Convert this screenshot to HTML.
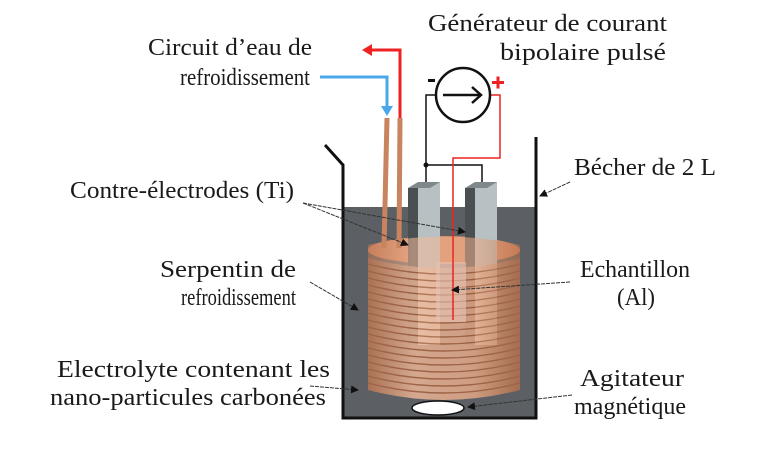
<!DOCTYPE html>
<html><head><meta charset="utf-8"><style>
html,body{margin:0;padding:0;background:#fff;}
svg{display:block;}
text{font-family:"Liberation Serif",serif;font-size:24px;fill:#1a1a1a;}
</style></head><body>
<svg width="768" height="455" viewBox="0 0 768 455" xmlns="http://www.w3.org/2000/svg">
<defs>
<marker id="ah" markerWidth="8" markerHeight="8" refX="7" refY="4" orient="auto" markerUnits="userSpaceOnUse"><path d="M0,0 L8,4 L0,8 z" fill="#111"/></marker>
<linearGradient id="cu" x1="0" x2="1" y1="0" y2="0">
<stop offset="0" stop-color="#c07650"/><stop offset="0.3" stop-color="#f6bd9c"/><stop offset="0.7" stop-color="#f0ae8a"/><stop offset="1" stop-color="#ba7048"/></linearGradient>
</defs>
<rect width="768" height="455" fill="#fff"/>
<rect x="343" y="207" width="193" height="211" fill="#5c6064"/>
<ellipse cx="444" cy="250" rx="76" ry="14" fill="#d08a66"/>
<rect x="408" y="188" width="10" height="157" fill="#4a4f52"/>
<rect x="418" y="182" width="22" height="163" fill="#b7c0c2"/>
<polygon points="408,188 418,182 440,182 430,188" fill="#7f888b"/>
<rect x="465" y="188" width="10" height="157" fill="#4a4f52"/>
<rect x="475" y="182" width="22" height="163" fill="#b7c0c2"/>
<polygon points="465,188 475,182 497,182 487,188" fill="#7f888b"/>
<g opacity="0.78">
<path d="M368,258 Q444,278 520,258 L520,390 Q444,410 368,390 z" fill="url(#cu)"/>
<g stroke="#b0663f" stroke-width="1.4" fill="none">
<path d="M368,264 Q444,284 520,264"/><path d="M368,271 Q444,291 520,271"/><path d="M368,278 Q444,298 520,278"/><path d="M368,285 Q444,305 520,285"/><path d="M368,292 Q444,312 520,292"/><path d="M368,299 Q444,319 520,299"/><path d="M368,306 Q444,326 520,306"/><path d="M368,313 Q444,333 520,313"/><path d="M368,320 Q444,340 520,320"/><path d="M368,327 Q444,347 520,327"/><path d="M368,334 Q444,354 520,334"/><path d="M368,341 Q444,361 520,341"/><path d="M368,348 Q444,368 520,348"/><path d="M368,355 Q444,375 520,355"/><path d="M368,362 Q444,382 520,362"/><path d="M368,369 Q444,389 520,369"/><path d="M368,376 Q444,396 520,376"/><path d="M368,383 Q444,403 520,383"/>
</g>
</g>
<path d="M368,245 Q444,228 520,245 L520,258 Q444,278 368,258 z" fill="url(#cu)" opacity="0.55"/>
<rect x="436" y="262" width="30" height="60" fill="#e6c3b4" opacity="0.6"/>
<line x1="387" y1="118" x2="384" y2="248" stroke="#c8835f" stroke-width="5"/>
<line x1="400" y1="118" x2="399" y2="248" stroke="#c8835f" stroke-width="5"/>
<polyline points="320,77 387,77 387,108" fill="none" stroke="#4aa7e8" stroke-width="3"/>
<polygon points="381,106 393,106 387,116" fill="#4aa7e8"/>
<polyline points="400,118 400,50 372,50" fill="none" stroke="#ee2222" stroke-width="3"/>
<polygon points="372,44 372,56 362,50" fill="#ee2222"/>
<polyline points="436,95 426,95 426,165 482,165 482,182" fill="none" stroke="#111" stroke-width="1.5"/>
<line x1="426" y1="165" x2="426" y2="182" stroke="#111" stroke-width="1.5"/>
<circle cx="426" cy="165" r="2.5" fill="#111"/>
<polyline points="490,95 500,95 500,158 453,158 453,320" fill="none" stroke="#ee2222" stroke-width="1.5"/>
<circle cx="463" cy="95" r="27" fill="#fff" stroke="#111" stroke-width="2.5"/>
<line x1="443" y1="95" x2="480" y2="95" stroke="#111" stroke-width="2.5"/>
<polyline points="472,87 481,95 472,103" fill="none" stroke="#111" stroke-width="2.5"/>
<rect x="428" y="79" width="7" height="3" fill="#111"/>
<rect x="492" y="81" width="12" height="3" fill="#ee2222"/><rect x="496.5" y="76.5" width="3" height="12" fill="#ee2222"/>
<polyline points="325,145 343,165 343,418 536,418 536,137" fill="none" stroke="#111" stroke-width="3"/>
<ellipse cx="438" cy="408" rx="26" ry="7" fill="#fff" stroke="#111" stroke-width="1.5"/>
<g stroke="#333" stroke-width="1" stroke-dasharray="4,1" fill="none">
<line x1="303" y1="203" x2="408" y2="245" marker-end="url(#ah)"/>
<line x1="303" y1="203" x2="465" y2="232" marker-end="url(#ah)"/>
<line x1="310" y1="282" x2="358" y2="310" marker-end="url(#ah)"/>
<line x1="310" y1="386" x2="358" y2="390" marker-end="url(#ah)"/>
<line x1="570" y1="282" x2="452" y2="290" marker-end="url(#ah)"/>
<line x1="572" y1="395" x2="468" y2="407" marker-end="url(#ah)"/>
<line x1="570" y1="182" x2="540" y2="196" marker-end="url(#ah)"/>
</g>
<text x="428" y="31" textLength="239" lengthAdjust="spacingAndGlyphs">Générateur de courant</text>
<text x="500" y="60" textLength="166" lengthAdjust="spacingAndGlyphs">bipolaire pulsé</text>
<text x="148" y="55" textLength="164" lengthAdjust="spacingAndGlyphs">Circuit d’eau de</text>
<text x="180" y="85" textLength="130" lengthAdjust="spacingAndGlyphs">refroidissement</text>
<text x="574" y="175" textLength="142" lengthAdjust="spacingAndGlyphs">Bécher de 2 L</text>
<text x="70" y="198" textLength="224" lengthAdjust="spacingAndGlyphs">Contre-électrodes (Ti)</text>
<text x="160" y="277" textLength="136" lengthAdjust="spacingAndGlyphs">Serpentin de</text>
<text x="181" y="305" textLength="115" lengthAdjust="spacingAndGlyphs">refroidissement</text>
<text x="580" y="277" textLength="110" lengthAdjust="spacingAndGlyphs">Echantillon</text>
<text x="617" y="305" textLength="38" lengthAdjust="spacingAndGlyphs">(Al)</text>
<text x="57" y="377" textLength="273" lengthAdjust="spacingAndGlyphs">Electrolyte contenant les</text>
<text x="50" y="405" textLength="276" lengthAdjust="spacingAndGlyphs">nano-particules carbonées</text>
<text x="580" y="386" textLength="104" lengthAdjust="spacingAndGlyphs">Agitateur</text>
<text x="574" y="414" textLength="112" lengthAdjust="spacingAndGlyphs">magnétique</text>
</svg>
</body></html>
